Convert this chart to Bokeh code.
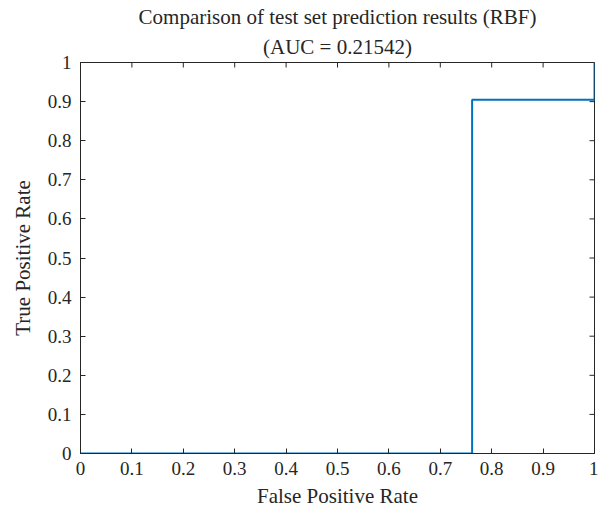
import math
from bokeh.plotting import figure
from bokeh.models import Title, FixedTicker, Range1d
from bokeh.embed import file_html
from bokeh.resources import INLINE

# ROC data
fpr = [0.0, 0.7619, 0.7619, 1.0, 1.0]
tpr = [0.0, 0.0, 0.9048, 0.9048, 1.0]
ticks = [0, 0.1, 0.2, 0.3, 0.4, 0.5, 0.6, 0.7, 0.8, 0.9, 1]
tick_labels = ["0", "0.1", "0.2", "0.3", "0.4", "0.5", "0.6", "0.7", "0.8", "0.9", "1"]
title1 = "Comparison of test set prediction results (RBF)"
title2 = "(AUC = 0.21542)"
xlabel = "False Positive Rate"
ylabel = "True Positive Rate"

FONT = "Liberation Serif"
DARK = "#262626"
TICK_FS = "19px"
LABEL_FS = "21px"

p = figure(width=598, height=508, output_backend="svg", toolbar_location=None,
           x_range=Range1d(0, 1), y_range=Range1d(0, 1), title=None,
           min_border_left=80, min_border_right=4, min_border_top=62, min_border_bottom=55)
p.frame_width = 514
p.frame_height = 391

# inward tick marks on the top and right edges of the box
p.ray(x=ticks, y=[1] * len(ticks), length=5, length_units="screen",
      angle=-math.pi / 2, line_color=DARK, line_width=1)
p.ray(x=[1] * len(ticks), y=ticks, length=5, length_units="screen",
      angle=math.pi, line_color=DARK, line_width=1)

p.line(fpr, tpr, line_color="#0072BD", line_width=2)

p.xgrid.visible = False
p.ygrid.visible = False
p.outline_line_color = DARK
p.outline_line_width = 1
p.background_fill_color = "white"
p.border_fill_color = "white"

def style(ax):
    ax.ticker = FixedTicker(ticks=ticks)
    ax.minor_tick_line_color = None
    ax.major_tick_in = 5
    ax.major_tick_out = 0
    ax.major_tick_line_color = DARK
    ax.axis_line_color = DARK
    ax.major_label_text_font = FONT
    ax.major_label_text_font_size = TICK_FS
    ax.major_label_text_color = DARK
    ax.axis_label_text_font = FONT
    ax.axis_label_text_font_size = LABEL_FS
    ax.axis_label_text_font_style = "normal"
    ax.axis_label_text_color = DARK
    ax.major_label_overrides = dict(zip(ticks, tick_labels))

style(p.xaxis[0])
style(p.yaxis[0])
p.xaxis[0].axis_label = xlabel
p.yaxis[0].axis_label = ylabel
p.xaxis[0].major_label_standoff = 8
p.yaxis[0].major_label_standoff = 9
p.xaxis[0].axis_label_standoff = 6
p.yaxis[0].axis_label_standoff = 10

t2 = Title(text=title2, align="center", text_font=FONT, text_font_size=LABEL_FS,
           text_font_style="normal", text_color=DARK, standoff=8)
t1 = Title(text=title1, align="center", text_font=FONT, text_font_size=LABEL_FS,
           text_font_style="normal", text_color=DARK, standoff=0)
p.add_layout(t2, "above")
p.add_layout(t1, "above")

open("out.html", "w").write(file_html(p, INLINE))
